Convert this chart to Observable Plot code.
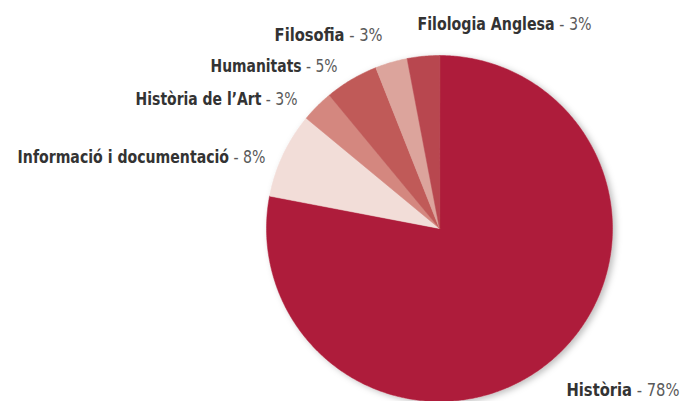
<!DOCTYPE html>
<html>
<head>
<meta charset="utf-8">
<script src="https://cdn.jsdelivr.net/npm/d3@7"></script>
<script src="https://cdn.jsdelivr.net/npm/@observablehq/plot@0.6"></script>
<style>
  html, body { margin: 0; padding: 0; background: #fff; }
  #chart svg { display: block; }
</style>
</head>
<body>
<div id="chart"></div>
<script>
// ---- data ----
const categories = ["Història", "Informació i documentació", "Història de l’Art", "Humanitats", "Filosofia", "Filologia Anglesa"];
const percents = [78, 8, 3, 5, 3, 3];

// ---- styles / layout ----
const colors = ["#ae1f3b", "#f2ddd8", "#d4877f", "#c05a58", "#dca49c", "#b8474f"];
const W = 681, H = 401;
const CX = 439, CY = 228, R = 173; // pie centre & radius in pixels
// label anchor points (pixels, baseline), text anchor and rendered width
const labelLayout = [
  {px: 566, py: 395, anchor: "start", w: 113},
  {px: 265, py: 162, anchor: "end", w: 248},
  {px: 297, py: 104, anchor: "end", w: 162},
  {px: 337, py: 71, anchor: "end", w: 127},
  {px: 382, py: 40, anchor: "end", w: 108},
  {px: 417, py: 29, anchor: "start", w: 174}
];

// build slice polygons in data space (unit circle)
const total = d3.sum(percents);
const slices = [];
let acc = 0;
categories.forEach((name, i) => {
  const a0 = acc / total * 2 * Math.PI;
  acc += percents[i];
  const a1 = acc / total * 2 * Math.PI;
  const n = Math.max(2, Math.ceil((a1 - a0) / 0.01));
  slices.push({name, x: 0, y: 0});
  for (let k = 0; k <= n; k++) {
    const a = a0 + (a1 - a0) * k / n;
    slices.push({name, x: Math.sin(a), y: Math.cos(a)});
  }
});

const labels = categories.map((name, i) => ({
  name,
  suffix: `- ${percents[i]}%`,
  x: (labelLayout[i].px - CX) / R,
  y: (CY - labelLayout[i].py) / R,
  anchor: labelLayout[i].anchor,
  w: labelLayout[i].w
}));

const font = "'Liberation Sans Narrow', 'DejaVu Sans Condensed', 'Roboto', sans-serif";
const textOpts = (anchor) => ({x: "x", y: "y", text: "name", textAnchor: anchor, lineAnchor: "bottom", fontSize: 17.5, fill: "#333", fontWeight: "bold"});

const chart = Plot.plot({
  width: W,
  height: H,
  margin: 0,
  x: {domain: [-CX / R, (W - CX) / R], axis: null},
  y: {domain: [-(H - CY) / R, CY / R], axis: null},
  color: {domain: categories, range: colors},
  style: {background: "#fff", fontFamily: font},
  marks: [
    Plot.line(slices, {x: "x", y: "y", z: "name", fill: "name", stroke: "name", strokeWidth: 0.5, curve: "linear-closed"}),
    Plot.text(labels.filter(d => d.anchor === "start"), textOpts("start")),
    Plot.text(labels.filter(d => d.anchor === "end"), textOpts("end"))
  ]
});

document.getElementById("chart").appendChild(chart);

// add the regular "- n%" part next to each bold name; condense both horizontally to the reference width
const byName = new Map(labels.map(d => [d.name, d]));
d3.select(chart).selectAll("text").each(function() {
  const t = d3.select(this);
  const d = byName.get(t.text());
  if (!d) return;
  const ln = this.getComputedTextLength();
  const r = d3.select(this.parentNode).append("text")
    .attr("x", t.attr("x")).attr("y", t.attr("y"))
    .attr("dy", t.attr("dy"))
    .attr("font-weight", "normal").attr("fill", "#5a5a5a")
    .text("\u00a0" + d.suffix);
  const lrSpace = r.node().getComputedTextLength();
  r.text(d.suffix);
  const lr = r.node().getComputedTextLength();
  const gap = lrSpace - lr;
  const k = d.w / (ln + lrSpace);
  const base = (t.attr("transform") || "") + ` scale(${k},1)`;
  t.attr("transform", base);
  r.attr("transform", base);
  if (d.anchor === "start") {
    r.attr("text-anchor", "start").attr("dx", ln + gap);
  } else {
    r.attr("text-anchor", "end");
    t.attr("dx", -(lr + gap));
  }
});

// soft shadow behind the pie
const svg = d3.select(chart);
const defs = svg.insert("defs", ":first-child");
const f = defs.append("filter").attr("id", "pieShadow").attr("x", "-20%").attr("y", "-20%").attr("width", "140%").attr("height", "140%");
f.append("feDropShadow").attr("dx", 3).attr("dy", 2).attr("stdDeviation", 3).attr("flood-color", "#000").attr("flood-opacity", 0.25);
svg.select("g[aria-label='line']").attr("filter", "url(#pieShadow)");
</script>
</body>
</html>
